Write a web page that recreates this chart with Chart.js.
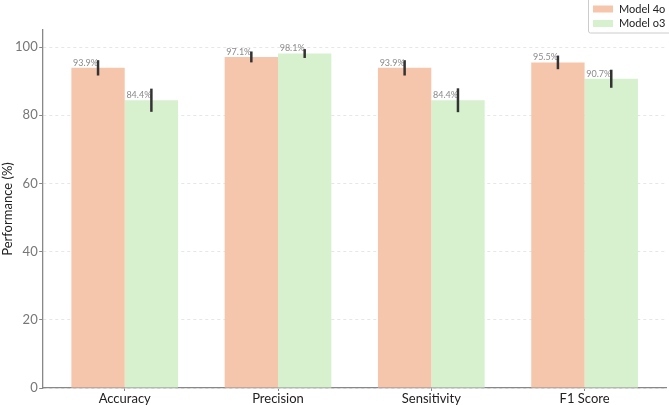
<!DOCTYPE html>
<html>
<head>
  <title>Model 4o vs Model o3</title>
  <style>
    body {
      margin: 0;
      background: #fff;
    }

    #chart-container {
      width: 669px;
      height: 405px;
    }
  </style>
</head>
<body>
  <div id="chart-container">
    <canvas id="perf-chart"></canvas>
  </div>

  <script src="https://cdn.jsdelivr.net/npm/chart.js"></script>
  <script>
    // values
    const categories = ["Accuracy", "Precision", "Sensitivity", "F1 Score"];
    const model4o = [93.9, 97.1, 93.9, 95.5];
    const modelO3 = [84.4, 98.1, 84.4, 90.7];
    const err4o = [2.25, 1.6, 2.25, 2.0];
    const errO3 = [3.4, 1.3, 3.5, 2.65];
    const yTicks = [0, 20, 40, 60, 80, 100];

    const seriesNames = ["Model 4o", "Model o3"];
    const seriesColors = ["#f5c6ac", "#d7f1cf"];
    const errors = [err4o, errO3];

    const FONT = "Lato";

    // error bars + value labels on top of each bar
    const barExtras = {
      id: "barExtras",
      afterDatasetsDraw(chart) {
        const ctx = chart.ctx;
        const yScale = chart.scales.y;
        chart.data.datasets.forEach((ds, di) => {
          const meta = chart.getDatasetMeta(di);
          meta.data.forEach((bar, i) => {
            const v = ds.data[i].y;
            const e = errors[di][i];
            ctx.save();
            ctx.fillStyle = "#8a8a8a";
            ctx.font = "9px " + FONT;
            ctx.textAlign = "right";
            ctx.textBaseline = "bottom";
            ctx.fillText(v.toFixed(1) + "%", bar.x, bar.y - 0.5);
            ctx.strokeStyle = "#333";
            ctx.lineWidth = 2.5;
            ctx.beginPath();
            ctx.moveTo(bar.x, yScale.getPixelForValue(v + e));
            ctx.lineTo(bar.x, yScale.getPixelForValue(v - e));
            ctx.stroke();
            ctx.restore();
          });
        });
      }
    };

    // boxed legend in the top right corner
    const boxLegend = {
      id: "boxLegend",
      afterDraw(chart) {
        const ctx = chart.ctx;
        ctx.save();
        ctx.beginPath();
        ctx.roundRect(588.5, -3, 84, 36, 2);
        ctx.fillStyle = "rgba(255,255,255,0.85)";
        ctx.fill();
        ctx.strokeStyle = "#cccccc";
        ctx.lineWidth = 1;
        ctx.stroke();
        seriesNames.forEach((name, i) => {
          const cy = 9 + i * 14.5;
          ctx.fillStyle = seriesColors[i];
          ctx.fillRect(593, cy - 3.5, 20, 7);
          ctx.fillStyle = "#222";
          ctx.font = "11px " + FONT;
          ctx.textAlign = "left";
          ctx.textBaseline = "middle";
          ctx.fillText(name, 619, cy);
        });
        ctx.restore();
      }
    };

    const ctx = document.getElementById("perf-chart").getContext("2d");
    new Chart(ctx, {
      type: "bar",
      data: {
        datasets: [model4o, modelO3].map((vals, di) => ({
          label: seriesNames[di],
          data: vals.map((v, i) => ({ x: i, y: v })),
          backgroundColor: seriesColors[di],
          borderWidth: 0,
          categoryPercentage: 0.696,
          barPercentage: 1.0
        }))
      },
      options: {
        responsive: true,
        maintainAspectRatio: false,
        animation: false,
        events: [],
        layout: {
          padding: { top: 30, right: 2.4, left: 0, bottom: 0 }
        },
        plugins: {
          legend: { display: false },
          tooltip: { enabled: false }
        },
        scales: {
          x: {
            type: "linear",
            offset: false,
            min: -0.535,
            max: 3.535,
            afterBuildTicks: (s) => {
              s.ticks = categories.map((c, i) => ({ value: i }));
            },
            afterFit: (s) => {
              s.height = 17;
            },
            grid: {
              offset: false,
              drawOnChartArea: false,
              tickLength: 3,
              tickColor: "#888"
            },
            border: { color: "#888", width: 1.3 },
            ticks: {
              callback: (v) => categories[v] ?? "",
              color: "#222",
              font: { family: FONT, size: 13 },
              padding: 0,
              autoSkip: false,
              maxRotation: 0
            }
          },
          y: {
            min: 0,
            max: 105,
            afterBuildTicks: (s) => {
              s.ticks = yTicks.map((v) => ({ value: v }));
            },
            afterFit: (s) => {
              s.width = 42.7;
            },
            grid: {
              color: "#e6e6e6",
              tickColor: "#888",
              tickBorderDash: [],
              tickLength: 3.5
            },
            border: { color: "#888", width: 1.3, dash: [3, 3] },
            ticks: {
              color: "#777",
              font: { family: FONT, size: 13 },
              padding: 1.5
            },
            title: {
              display: true,
              text: "Performance (%)",
              color: "#222",
              font: { family: FONT, size: 13 },
              padding: 0
            }
          }
        }
      },
      plugins: [barExtras, boxLegend]
    });
  </script>
</body>
</html>
